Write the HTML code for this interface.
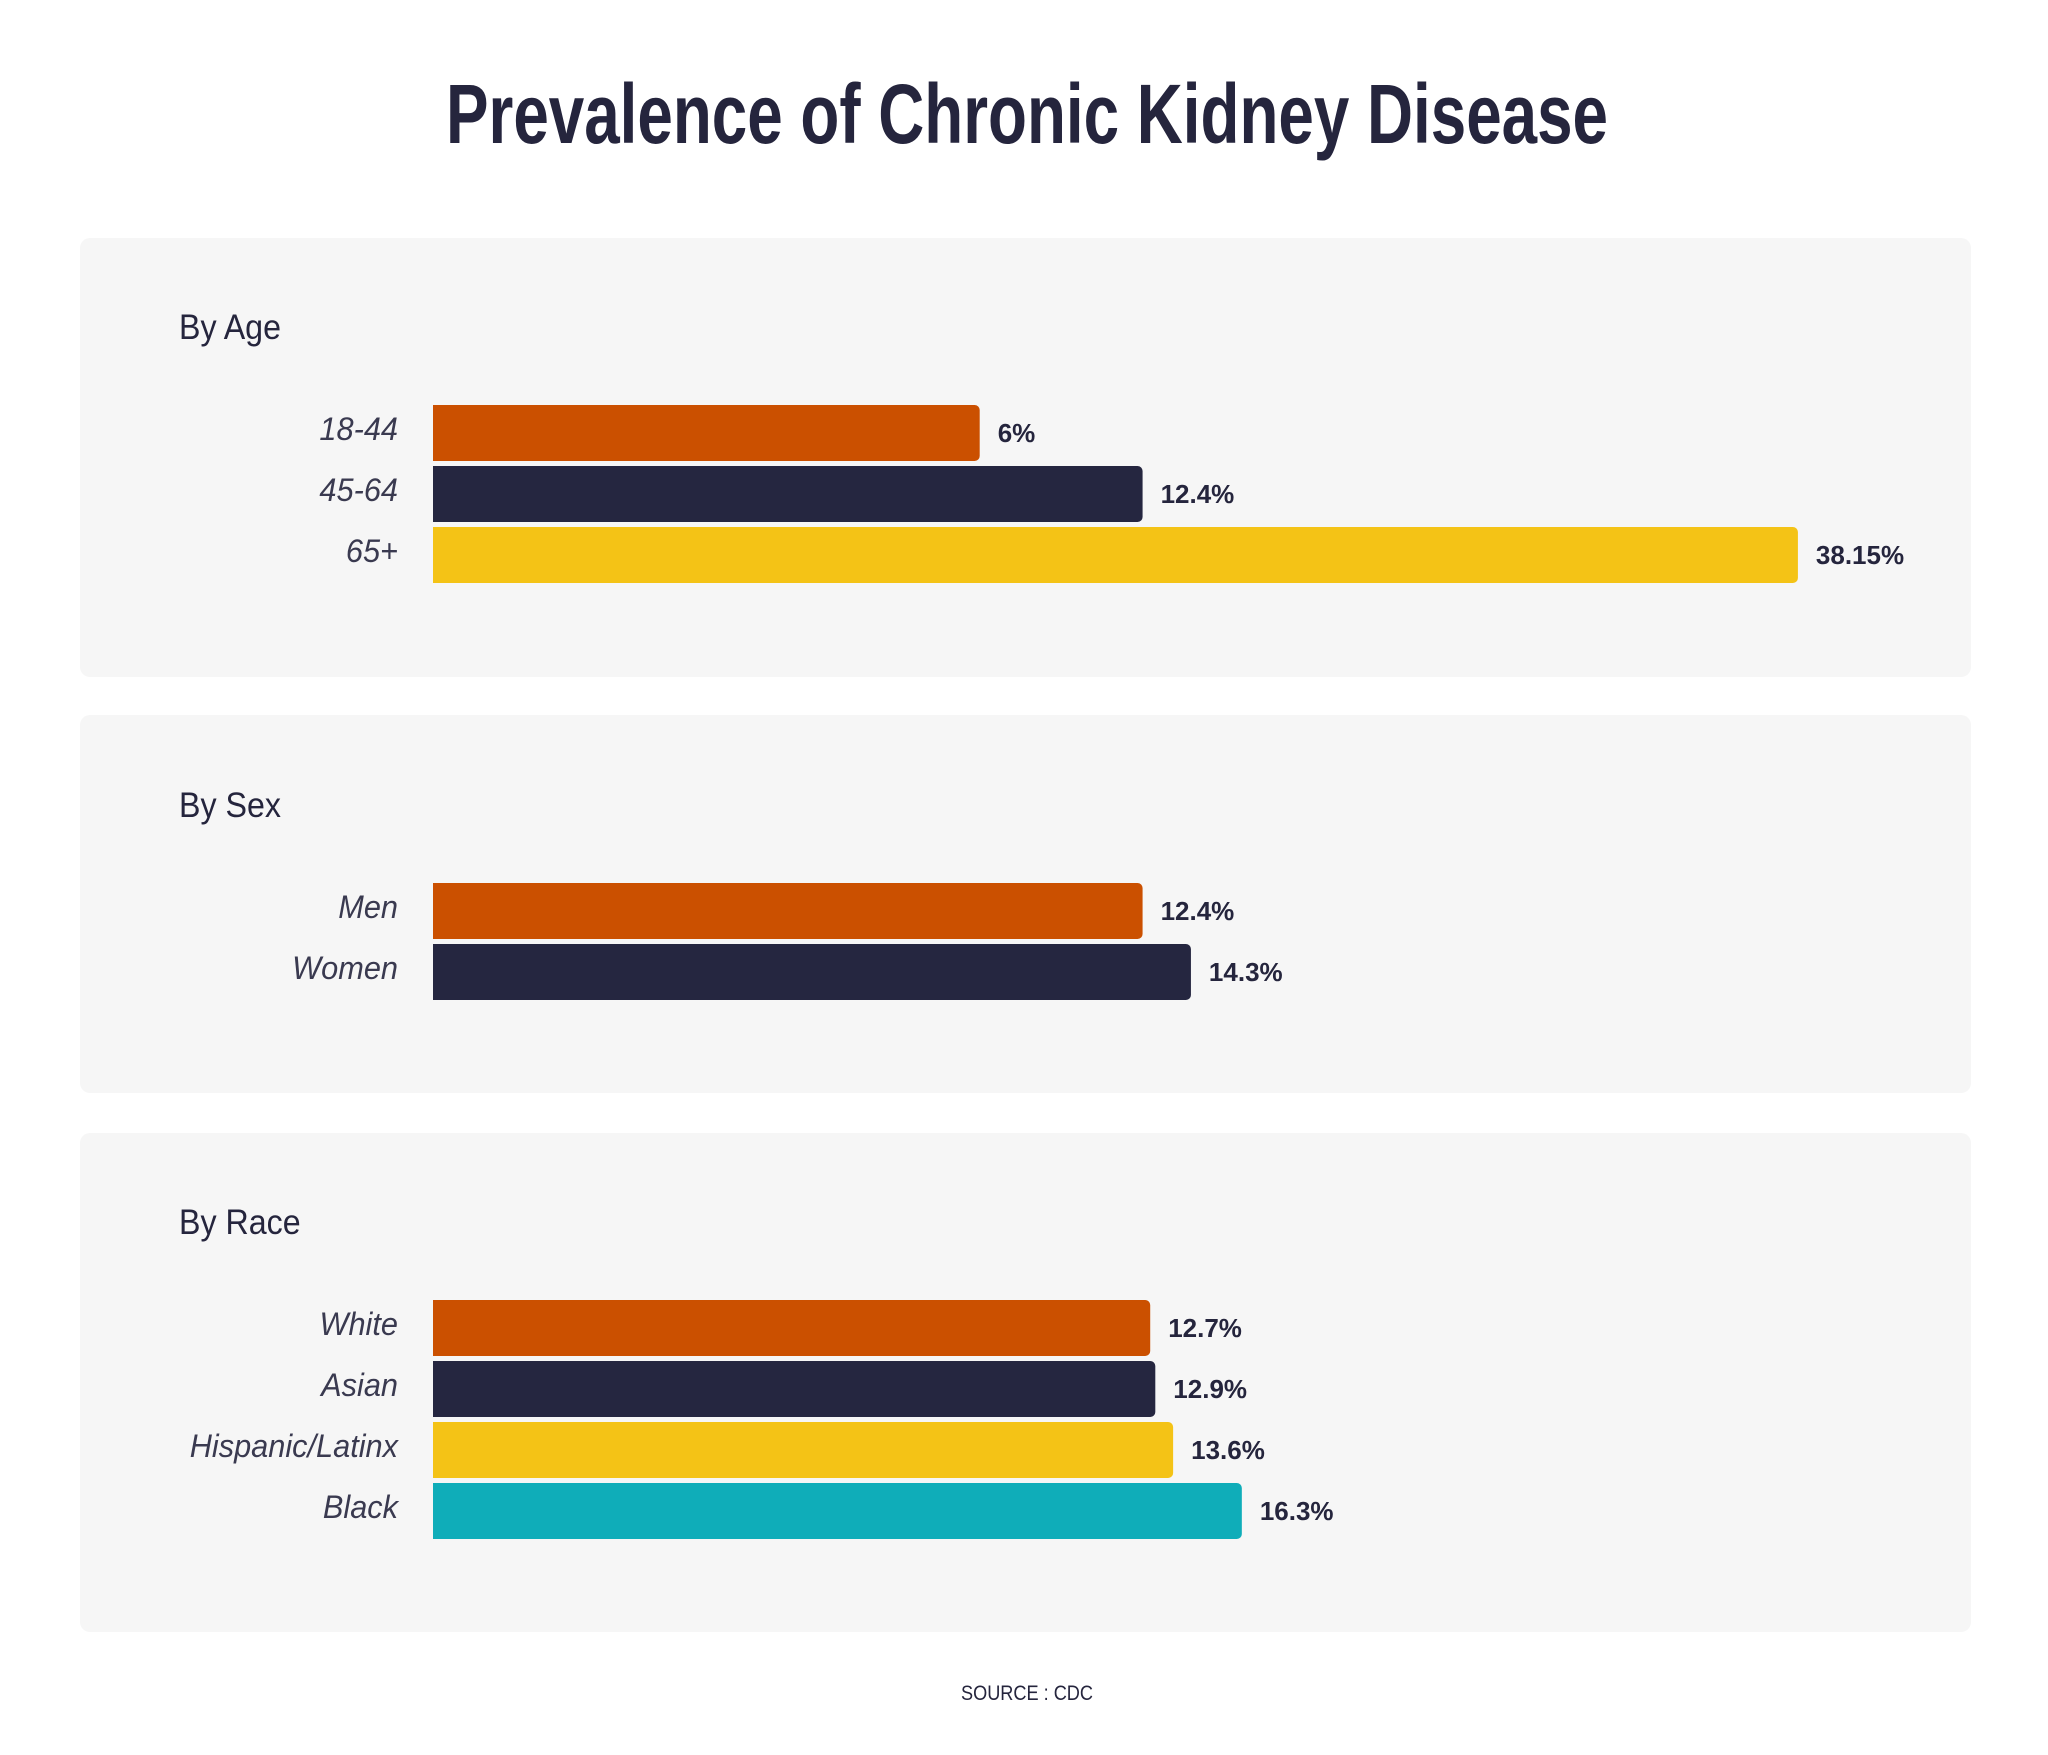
<!DOCTYPE html>
<html><head><meta charset="utf-8">
<style>
html,body{margin:0;padding:0;background:#fff;}
svg{display:block;}
</style></head>
<body>
<svg id="chart" width="2048" height="1755" viewBox="0 0 2048 1755" xmlns="http://www.w3.org/2000/svg">
  <text x="1027" y="143" text-anchor="middle" font-family="Liberation Sans, sans-serif" font-weight="bold" font-size="84" fill="#25253d" textLength="1162" lengthAdjust="spacingAndGlyphs">Prevalence of Chronic Kidney Disease</text>
  <g id="panels"></g>
  <text x="1027" y="1700" text-anchor="middle" font-family="Liberation Sans, sans-serif" font-size="21" fill="#25253d" textLength="132" lengthAdjust="spacingAndGlyphs">SOURCE : CDC</text>
</svg>
<script>
const ageCategories = ["18-44", "45-64", "65+"];
const ageValues = [6, 12.4, 38.15];
const ageLabels = ["6%", "12.4%", "38.15%"];
const sexCategories = ["Men", "Women"];
const sexValues = [12.4, 14.3];
const sexLabels = ["12.4%", "14.3%"];
const raceCategories = ["White", "Asian", "Hispanic/Latinx", "Black"];
const raceValues = [12.7, 12.9, 13.6, 16.3];
const raceLabels = ["12.7%", "12.9%", "13.6%", "16.3%"];

const colors = ["#cb5000", "#252640", "#f4c316", "#0fadb9"];
const NS = "http://www.w3.org/2000/svg";
const BAR_X = 433;
function xLen(v){ return 394 + 25.45 * v; }

const panels = [
  {title:"By Age", cats:ageCategories, vals:ageValues, labels:ageLabels, top:238, h:439, titleY:339, barTop:405, key:"age"},
  {title:"By Sex", cats:sexCategories, vals:sexValues, labels:sexLabels, top:715, h:378, titleY:817, barTop:883, key:"sex"},
  {title:"By Race", cats:raceCategories, vals:raceValues, labels:raceLabels, top:1133, h:499, titleY:1234, barTop:1300, key:"race"}
];
const root = document.getElementById("panels");
function mk(tag, attrs){ const e=document.createElementNS(NS,tag); for(const k in attrs) e.setAttribute(k, attrs[k]); return e; }

panels.forEach(p=>{
  const g = mk("g",{});
  
  
  const bg = mk("rect",{x:80,y:p.top,width:1891,height:p.h,rx:10,fill:"#f6f6f6"});
  
  
  g.appendChild(bg);
  const t = mk("text",{x:179,y:p.titleY,"font-family":"Liberation Sans, sans-serif","font-size":35,fill:"#25253d",transform:`translate(179 0) scale(0.92 1) translate(-179 0)`});
  t.textContent = p.title;
  
  
  g.appendChild(t);
  p.vals.forEach((v,i)=>{
    const y = p.barTop + i*61;
    const w = xLen(v);
    const bar = mk("rect",{x:BAR_X-6,y:y,width:w+6,height:56,rx:5,fill:colors[i]});
    
    
    g.appendChild(bar);
    const cover = mk("rect",{x:BAR_X-8,y:y,width:8,height:56,fill:"#f6f6f6"});
    g.appendChild(cover);
    const lab = mk("text",{x:398,y:y+35,"text-anchor":"end","font-family":"Liberation Sans, sans-serif","font-style":"italic","font-size":32,fill:"#3a3a50",transform:`translate(398 0) scale(0.96 1) translate(-398 0)`});
    lab.textContent = p.cats[i];
    
    
    g.appendChild(lab);
    const vx = BAR_X + w + 18;
    const val = mk("text",{x:vx,y:y+37,"font-family":"Liberation Sans, sans-serif","font-weight":"bold","font-size":26,fill:"#25253d"});
    val.textContent = p.labels[i];
    
    
    g.appendChild(val);
  });
  root.appendChild(g);
});
</script>
</body></html>
